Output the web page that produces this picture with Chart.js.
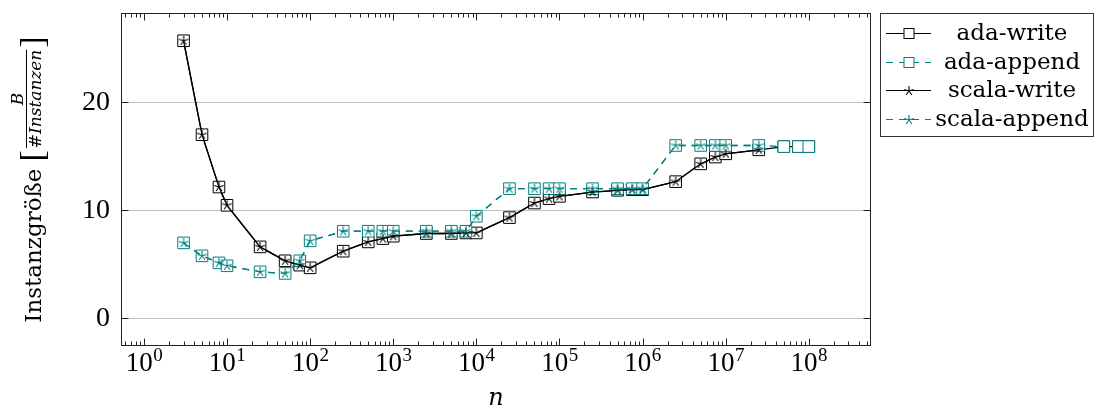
<!DOCTYPE html>
<html>
<head>
<meta charset="utf-8">
<script src="https://cdn.jsdelivr.net/npm/chart.js@4.4.0/dist/chart.umd.min.js"></script>
<style>
html, body { margin: 0; padding: 0; background: #fff; }
#wrap { width: 1096px; height: 411px; }
</style>
</head>
<body>
<div id="wrap"><canvas id="chart" width="1096" height="411"></canvas></div>
<script>
const adaN = [3, 5, 8, 10, 25, 50, 75, 100, 250, 500, 750, 1000, 2500, 5000, 7500, 10000,
  25000, 50000, 75000, 100000, 250000, 500000, 750000, 1000000, 2500000, 5000000, 7500000,
  10000000, 25000000, 50000000, 75000000, 100000000];
const scalaN = [3, 5, 8, 10, 25, 50, 75, 100, 250, 500, 750, 1000, 2500, 5000, 7500, 10000,
  25000, 50000, 75000, 100000, 250000, 500000, 750000, 1000000, 2500000, 5000000, 7500000,
  10000000, 25000000];

const adaWrite = [25.7, 17.0, 12.15, 10.46, 6.61, 5.32, 4.92, 4.67, 6.21, 7.07, 7.38, 7.6,
  7.85, 7.85, 7.9, 7.9, 9.32, 10.67, 11.08, 11.29, 11.69, 11.85, 11.91, 11.91, 12.65, 14.3,
  14.93, 15.23, 15.6, 15.9, 15.9, 15.9];
const adaAppend = [6.98, 5.78, 5.13, 4.86, 4.3, 4.15, 5.32, 7.17, 8.06, 8.06, 8.06, 8.06,
  8.06, 8.06, 8.06, 9.45, 12.0, 12.0, 12.0, 12.0, 12.0, 12.0, 12.0, 12.0, 16.0, 16.0, 16.0,
  16.0, 16.0, 15.9, 15.9, 15.9];
const scalaWrite = [25.7, 17.0, 12.15, 10.46, 6.61, 5.32, 4.92, 4.67, 6.21, 7.07, 7.38, 7.6,
  7.85, 7.85, 7.9, 7.9, 9.32, 10.67, 11.08, 11.29, 11.69, 11.85, 11.91, 11.91, 12.65, 14.3,
  14.93, 15.23, 15.6];
const scalaAppend = [6.98, 5.78, 5.13, 4.86, 4.3, 4.15, 5.32, 7.17, 8.06, 8.06, 8.06, 8.06,
  8.06, 8.06, 8.06, 9.45, 12.0, 12.0, 12.0, 12.0, 12.0, 12.0, 12.0, 12.0, 16.0, 16.0, 16.0,
  16.0, 16.0];

// Achsen
const xTickValues = [1, 10, 100, 1000, 10000, 100000, 1000000, 10000000, 100000000];
const xTickExps = ['0', '1', '2', '3', '4', '5', '6', '7', '8'];
const yTickValues = [0, 10, 20];
const xMin = 0.53, xMax = 5.6e8;
const yMin = -2.57, yMax = 28.27;

const TEAL = '#008080';

// Stern-Marker (5 Strahlen wie bei pgfplots)
function makeStar(color) {
    const c = document.createElement('canvas');
    c.width = 12; c.height = 12;
    const g = c.getContext('2d');
    g.strokeStyle = color;
    g.lineWidth = 1.1;
    g.beginPath();
    for (let k = 0; k < 5; k++) {
        const a = -Math.PI / 2 + k * 2 * Math.PI / 5;
        g.moveTo(6, 6);
        g.lineTo(6 + 5 * Math.cos(a), 6 + 5 * Math.sin(a));
    }
    g.stroke();
    return c;
}
const starBlack = makeStar('#000');
const starTeal = makeStar(TEAL);

function toPoints(ns, ys) {
    return ns.map((n, i) => ({ x: n, y: ys[i] }));
}

// Rahmen, Ticks nach innen, x-Beschriftung, Legende, y-Titel
const decor = {
    id: 'decor',
    afterDraw(chart) {
        const { ctx, chartArea: a, scales: { x, y } } = chart;
        const L = Math.round(a.left) + 0.5, R = Math.round(a.right) - 0.5;
        const T = Math.round(a.top) + 0.5, B = Math.round(a.bottom) - 0.5;
        ctx.save();
        ctx.strokeStyle = '#222';
        ctx.lineWidth = 1;
        ctx.strokeRect(L, T, R - L, B - T);

        ctx.beginPath();
        for (let e = -1; e <= 8; e++) {
            for (let m = 1; m <= 9; m++) {
                const v = m * Math.pow(10, e);
                if (v < xMin || v > xMax) continue;
                const px = Math.round(x.getPixelForValue(v)) + 0.5;
                const len = m === 1 ? 7 : 4;
                ctx.moveTo(px, B); ctx.lineTo(px, B - len);
                ctx.moveTo(px, T); ctx.lineTo(px, T + len);
            }
        }
        yTickValues.forEach(v => {
            const py = Math.round(y.getPixelForValue(v)) + 0.5;
            ctx.moveTo(L, py); ctx.lineTo(L + 7, py);
            ctx.moveTo(R, py); ctx.lineTo(R - 7, py);
        });
        ctx.stroke();

        // x-Tickbeschriftung 10^k
        ctx.fillStyle = '#000';
        ctx.textAlign = 'left';
        ctx.textBaseline = 'alphabetic';
        xTickValues.forEach((v, i) => {
            const px = x.getPixelForValue(v);
            ctx.font = '27px "Liberation Serif"';
            const wb = ctx.measureText('10').width;
            ctx.font = '19px "Liberation Serif"';
            const we = ctx.measureText(xTickExps[i]).width;
            const x0 = px - (wb + we) / 2;
            ctx.font = '27px "Liberation Serif"';
            ctx.fillText('10', x0, 371);
            ctx.font = '19px "Liberation Serif"';
            ctx.fillText(xTickExps[i], x0 + wb + 0.5, 361);
        });

        // Legende
        ctx.strokeStyle = '#333';
        ctx.strokeRect(880.5, 13.5, 213, 123);
        ctx.font = '23px "DejaVu Serif"';
        ctx.textAlign = 'center';
        ctx.textBaseline = 'middle';
        chart.data.datasets.forEach((ds, i) => {
            const cy = Math.round(33 + i * 28.5) + 0.5;
            ctx.save();
            ctx.strokeStyle = ds.borderColor;
            ctx.lineWidth = 1;
            ctx.setLineDash(ds.borderDash || []);
            ctx.beginPath();
            ctx.moveTo(886, cy); ctx.lineTo(931, cy);
            ctx.stroke();
            ctx.setLineDash([]);
            if (ds.pointStyle === 'rect') {
                ctx.fillStyle = '#fff';
                ctx.fillRect(904, cy - 5, 10, 10);
                ctx.strokeRect(904, cy - 5, 10, 10);
            } else {
                ctx.drawImage(ds.pointStyle, 909 - 6, Math.round(cy) - 6);
            }
            ctx.restore();
            ctx.fillStyle = '#000';
            ctx.fillText(ds.label, 1012, cy + 1);
        });

        // y-Achsentitel mit Bruch
        ctx.translate(41, (a.top + a.bottom) / 2);
        ctx.rotate(-Math.PI / 2);
        ctx.textAlign = 'left';
        ctx.textBaseline = 'alphabetic';
        const mainFont = '23px "DejaVu Serif"';
        const fracFont = 'italic 17px "DejaVu Serif"';
        const brFont = '34px "Liberation Serif"';
        ctx.font = mainFont;
        const wMain = ctx.measureText('Instanzgröße').width;
        ctx.font = brFont;
        const wBr = ctx.measureText('[').width;
        ctx.font = fracFont;
        const wDen = ctx.measureText('#Instanzen').width;
        const wNum = ctx.measureText('B').width;
        const gap = 7;
        const total = wMain + gap + wBr + 2 + wDen + 2 + wBr;
        let cx = -total / 2;
        ctx.fillStyle = '#000';
        ctx.font = mainFont;
        ctx.fillText('Instanzgröße', cx, 0);
        cx += wMain + gap;
        ctx.font = brFont;
        ctx.fillText('[', cx, 2);
        cx += wBr + 2;
        ctx.font = fracFont;
        ctx.fillText('#Instanzen', cx, 0);
        ctx.fillText('B', cx + (wDen - wNum) / 2, -18);
        ctx.beginPath();
        ctx.strokeStyle = '#000';
        ctx.lineWidth = 1;
        ctx.moveTo(cx, -14.5); ctx.lineTo(cx + wDen, -14.5);
        ctx.stroke();
        cx += wDen + 2;
        ctx.font = brFont;
        ctx.fillText(']', cx, 2);
        ctx.restore();
    }
};

new Chart(document.getElementById('chart'), {
    type: 'line',
    data: {
        datasets: [{
            label: 'ada-write',
            data: toPoints(adaN, adaWrite),
            borderColor: '#000',
            borderWidth: 1.3,
            pointStyle: 'rect',
            pointRadius: 8.2,
            pointBorderColor: '#000',
            pointBackgroundColor: '#fff',
            pointBorderWidth: 1,
            order: 4
        }, {
            label: 'ada-append',
            data: toPoints(adaN, adaAppend),
            borderColor: TEAL,
            borderWidth: 1.3,
            borderDash: [7, 6],
            pointStyle: 'rect',
            pointRadius: 8.2,
            pointBorderColor: TEAL,
            pointBackgroundColor: '#fff',
            pointBorderWidth: 1,
            order: 3
        }, {
            label: 'scala-write',
            data: toPoints(scalaN, scalaWrite),
            borderColor: '#000',
            borderWidth: 1.3,
            pointStyle: starBlack,
            pointRadius: 6,
            order: 2
        }, {
            label: 'scala-append',
            data: toPoints(scalaN, scalaAppend),
            borderColor: TEAL,
            borderWidth: 1.3,
            borderDash: [7, 6],
            pointStyle: starTeal,
            pointRadius: 6,
            order: 1
        }]
    },
    options: {
        responsive: false,
        animation: false,
        events: [],
        layout: { padding: { top: 13, right: 225, left: 0, bottom: 0 } },
        elements: { line: { tension: 0 } },
        plugins: {
            legend: { display: false },
            tooltip: { enabled: false }
        },
        scales: {
            x: {
                type: 'logarithmic',
                min: xMin,
                max: xMax,
                afterBuildTicks: s => { s.ticks = xTickValues.map(v => ({ value: v, major: true })); },
                afterFit: s => {
                    s.height = 65;
                    s.paddingLeft = 0; s.paddingRight = 0;
                },
                grid: { display: false, drawTicks: false },
                border: { display: false },
                ticks: { display: false },
                title: {
                    display: true,
                    text: 'n',
                    color: '#000',
                    padding: 0,
                    font: { family: '"DejaVu Serif"', style: 'italic', size: 24, lineHeight: 1 }
                }
            },
            y: {
                min: yMin,
                max: yMax,
                afterBuildTicks: s => { s.ticks = yTickValues.map(v => ({ value: v })); },
                afterFit: s => {
                    s.width = 121;
                    s.paddingTop = 0; s.paddingBottom = 0;
                },
                grid: { color: '#c0c0c0', drawTicks: false },
                border: { display: false },
                ticks: {
                    padding: 11,
                    color: '#000',
                    font: { family: '"Liberation Serif"', size: 28 }
                }
            }
        }
    },
    plugins: [decor]
});
</script>
</body>
</html>
